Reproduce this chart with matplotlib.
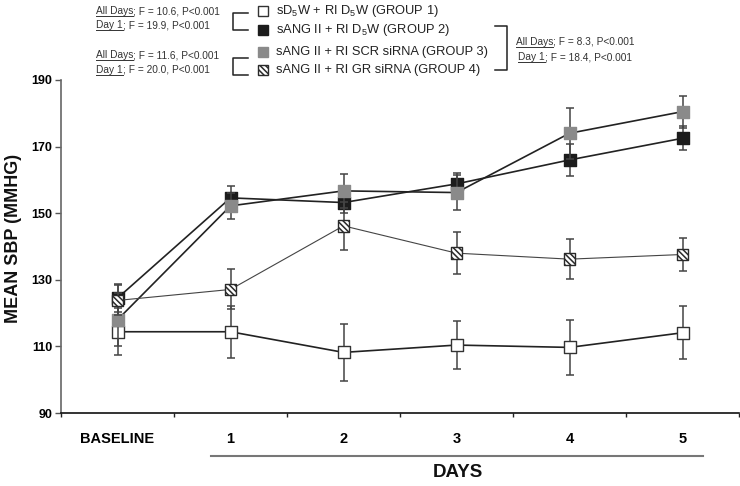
import matplotlib
matplotlib.use("Agg")
import matplotlib.pyplot as plt
from matplotlib.transforms import Affine2D
from matplotlib.lines import Line2D
from matplotlib.patches import Rectangle
import numpy as np

plt.rcParams['font.family'] = ['Liberation Sans', 'DejaVu Sans']
plt.rcParams['mathtext.fontset'] = 'custom'
plt.rcParams['mathtext.rm'] = 'Liberation Sans'
plt.rcParams['mathtext.it'] = 'Liberation Sans'
plt.rcParams['mathtext.default'] = 'regular'
plt.rcParams['hatch.linewidth'] = 1.1

# ---------------- data ----------------
categories = ["BASELINE", "1", "2", "3", "4", "5"]
g1_mean = [114.4, 114.4, 108.2, 110.4, 109.7, 114.1]
g1_err = [7.0, 7.8, 8.5, 7.2, 8.3, 8.0]
g2_mean = [124.5, 154.6, 153.2, 158.8, 166.0, 172.5]
g2_err = [4.2, 3.7, 3.0, 3.4, 4.9, 3.6]
g3_mean = [118.0, 152.2, 156.7, 156.2, 174.0, 180.5]
g3_err = [8.0, 4.0, 5.0, 5.2, 7.7, 4.8]
g4_mean = [123.8, 127.1, 146.2, 138.0, 136.2, 137.6]
g4_err = [4.5, 6.0, 7.3, 6.4, 6.1, 4.9]
y_ticks = [90, 110, 130, 150, 170, 190]

legend_labels = [r"sD$_5$W + RI D$_5$W (GROUP 1)",
                 r"sANG II + RI D$_5$W (GROUP 2)",
                 "sANG II + RI SCR siRNA (GROUP 3)",
                 "sANG II + RI GR siRNA (GROUP 4)"]
stats_left_1 = [("All Days", "; F = 10.6, P<0.001"), ("Day 1", "; F = 19.9, P<0.001")]
stats_left_2 = [("All Days", "; F = 11.6, P<0.001"), ("Day 1", "; F = 20.0, P<0.001")]
stats_right = [("All Days", "; F = 8.3, P<0.001"), ("Day 1", "; F = 18.4, P<0.001")]

# ---------------- figure ----------------
W, H = 740, 486
fig = plt.figure(figsize=(W / 100, H / 100), dpi=100)
pix = Affine2D().scale(1.0 / W, -1.0 / H).translate(0, 1) + fig.transFigure

ax_l, ax_r, ax_t, ax_b = 61, 739, 80, 413
ax = fig.add_axes([ax_l / W, 1 - ax_b / H, (ax_r - ax_l) / W, (ax_b - ax_t) / H])

x = np.arange(len(categories))
HATCH = "\\\\\\\\\\\\"
series = [
    dict(m=g1_mean, e=g1_err, fc="white", ec="#333333", lc="#222222", lw=1.2, hatch=None),
    dict(m=g2_mean, e=g2_err, fc="#1c1c1c", ec="#1c1c1c", lc="#222222", lw=1.2, hatch=None),
    dict(m=g3_mean, e=g3_err, fc="#8a8a8a", ec="#8a8a8a", lc="#222222", lw=1.2, hatch=None),
    dict(m=g4_mean, e=g4_err, fc="white", ec="#2a2a2a", lc="#444444", lw=0.8, hatch=HATCH),
]
for i, s in enumerate(series):
    z = 2 + i * 3
    ax.errorbar(x, s["m"], yerr=s["e"], fmt="none", ecolor="#444444",
                elinewidth=1.1, capsize=3.2, capthick=1.1, zorder=z)
    ax.plot(x, s["m"], color=s["lc"], lw=s["lw"], zorder=z + 1)
    ax.scatter(x, s["m"], marker="s", s=72, facecolor=s["fc"], edgecolor=s["ec"],
               linewidths=1.0, hatch=s["hatch"], zorder=z + 2)

ax.set_xlim(-0.5, len(categories) - 0.5)
ax.set_ylim(90, 190)
ax.set_yticks(y_ticks)
ax.set_yticklabels([str(v) for v in y_ticks], fontweight="bold", fontsize=9)
ax.set_xticks(np.arange(-0.5, len(categories)), minor=False)
ax.set_xticklabels([])
ax.set_xticks(x, minor=True)
ax.set_xticklabels(categories, minor=True, fontweight="bold", fontsize=10.5)
ax.tick_params(axis="x", which="major", length=3.2, width=1.0, color="#222222")
ax.tick_params(axis="x", which="minor", length=0, pad=14)
ax.tick_params(axis="y", which="major", length=4.3, width=1.0, color="#555555", pad=2)

for sp in ["top", "right"]:
    ax.spines[sp].set_visible(False)
ax.spines["left"].set_color("#666666")
ax.spines["left"].set_linewidth(1.2)
ax.spines["bottom"].set_color("#111111")
ax.spines["bottom"].set_linewidth(1.2)

# axis labels
fig.text(14, 238, "MEAN SBP (MMHG)", transform=pix, rotation=90, ha="center",
         va="center", fontsize=13, fontweight="bold", color="#111111")
fig.text(458, 472, "DAYS", transform=pix, ha="center", va="center",
         fontsize=13.5, fontweight="bold", color="#111111")
fig.add_artist(Line2D([211, 703], [456, 456], transform=pix, color="#777777", lw=1.5))

# ---------------- legend ----------------
leg_y = [11, 30, 52, 70]
for i, (lab, s) in enumerate(zip(legend_labels, series)):
    fig.add_artist(Rectangle((258, leg_y[i] + 5), 10, -10, transform=pix,
                             facecolor=s["fc"], edgecolor=s["ec"], lw=1.0,
                             hatch=s["hatch"]))
    fig.text(276, leg_y[i], lab, transform=pix, ha="left", va="center",
             fontsize=9.3, color="#222222")

# brackets
def bracket(xv, x_end, y0, y1):
    fig.add_artist(Line2D([x_end, xv, xv, x_end], [y0, y0, y1, y1],
                          transform=pix, color="#222222", lw=1.1))

bracket(233, 248, 13, 30)
bracket(233, 248, 58, 75)
bracket(507, 495, 26, 70)

renderer = fig.canvas.get_renderer()

def stat_line(x0, y0, under, rest):
    t1 = fig.text(x0, y0, under, transform=pix, ha="left", va="center",
                  fontsize=7.3, color="#333333")
    bb = t1.get_window_extent(renderer)
    w = bb.width
    fig.text(x0 + w, y0, rest, transform=pix, ha="left", va="center",
             fontsize=7.3, color="#333333")
    fig.add_artist(Line2D([x0, x0 + w], [y0 + 5, y0 + 5], transform=pix,
                          color="#333333", lw=0.7))

stat_ys_1 = [11, 25]
stat_ys_2 = [55, 70]
stat_ys_r = [42, 57]
for (u, r), yy in zip(stats_left_1, stat_ys_1):
    stat_line(96, yy, u, r)
for (u, r), yy in zip(stats_left_2, stat_ys_2):
    stat_line(96, yy, u, r)
for (u, r), yy, xx in zip(stats_right, stat_ys_r, [516, 518]):
    stat_line(xx, yy, u, r)

fig.savefig("out.png", dpi=100)
